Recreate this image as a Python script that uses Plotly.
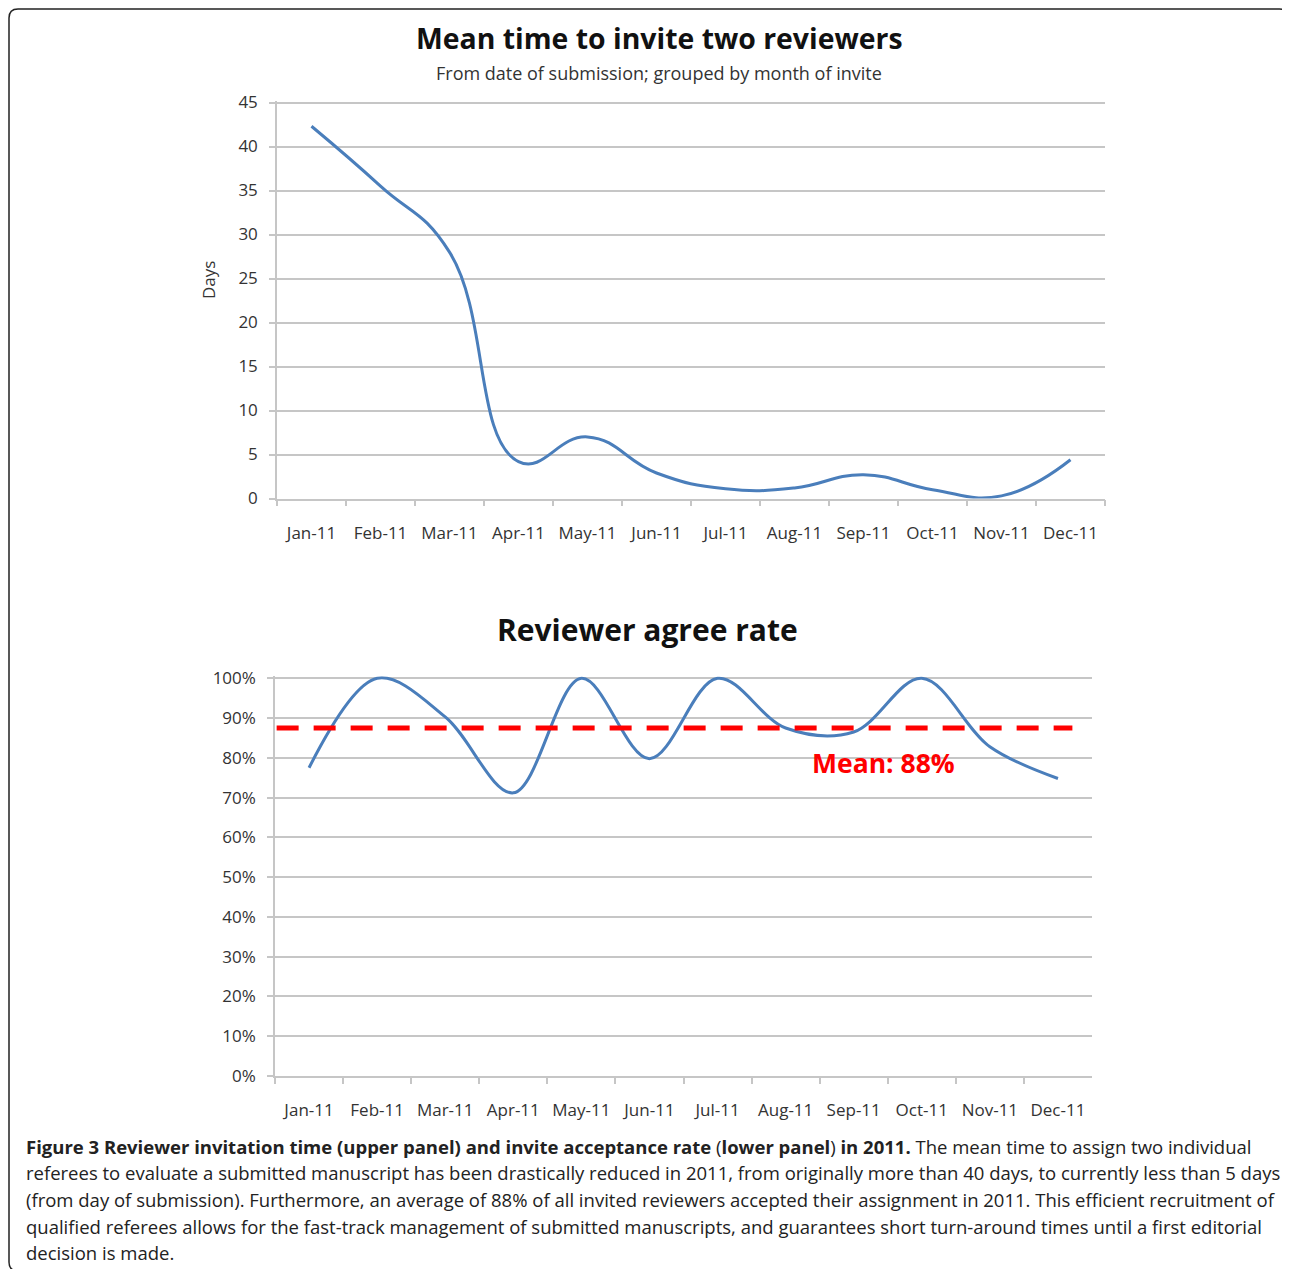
import plotly.graph_objects as go

PAGE_W, PAGE_H = 1290, 1269
OFF = 8  # default page body margin
W, H = PAGE_W - OFF, PAGE_H - OFF

months = ["Jan-11", "Feb-11", "Mar-11", "Apr-11", "May-11", "Jun-11",
          "Jul-11", "Aug-11", "Sep-11", "Oct-11", "Nov-11", "Dec-11"]
days_to_invite = [42.3, 35.5, 28.0, 4.2, 7.0, 2.9, 1.1, 1.2, 2.7, 1.0, 0.3, 4.4]
agree_rate = [0.775, 1.00, 0.903, 0.712, 1.00, 0.798, 1.00, 0.875, 0.865, 1.00, 0.828, 0.748]
mean_rate = 0.875
mean_label = "Mean: 88%"
days_ticks = [0, 5, 10, 15, 20, 25, 30, 35, 40, 45]
pct_ticks = [0, 0.1, 0.2, 0.3, 0.4, 0.5, 0.6, 0.7, 0.8, 0.9, 1.0]

top_title = "Mean time to invite two reviewers"
top_subtitle = "From date of submission; grouped by month of invite"
bottom_title = "Reviewer agree rate"
y_title = "Days"
caption_lines = [
    "<b>Figure 3 Reviewer invitation time (upper panel) and invite acceptance rate </b>(<b>lower panel</b>)<b> in 2011.</b> The mean time to assign two individual",
    "referees to evaluate a submitted manuscript has been drastically reduced in 2011, from originally more than 40 days, to currently less than 5 days",
    "(from day of submission). Furthermore, an average of 88% of all invited reviewers accepted their assignment in 2011. This efficient recruitment of",
    "qualified referees allows for the fast-track management of submitted manuscripts, and guarantees short turn-around times until a first editorial",
    "decision is made.",
]


def px(x):
    return (x - OFF) / W


def py(y):
    return 1 - (y - OFF) / H


FONT = "Open Sans"
LINE = "#4A7EBB"
GRID = "#C6C6C6"
TXT = "#333333"

fig = go.Figure()
fig.add_trace(go.Scatter(x=months, y=days_to_invite, mode="lines",
                         line=dict(color=LINE, width=3, shape="spline", smoothing=1.3),
                         xaxis="x", yaxis="y", showlegend=False, hoverinfo="skip"))
fig.add_trace(go.Scatter(x=months, y=agree_rate, mode="lines",
                         line=dict(color=LINE, width=3, shape="spline", smoothing=1.0),
                         xaxis="x2", yaxis="y2", showlegend=False, hoverinfo="skip"))

common_x = dict(type="category", tickson="boundaries", ticks="outside", ticklen=6,
                tickcolor=GRID, tickwidth=1.5, showline=True, linecolor=GRID, linewidth=1.5,
                showgrid=False, zeroline=False, fixedrange=True, automargin=False,
                range=[-0.5, len(months) - 0.5], ticklabelstandoff=18,
                tickfont=dict(family=FONT, size=17, color=TXT))
common_y = dict(ticks="outside", ticklen=6, tickcolor=GRID, tickwidth=1.5,
                showline=True, linecolor=GRID, linewidth=1.5, showgrid=True,
                gridcolor=GRID, gridwidth=1.5, zeroline=False, fixedrange=True,
                automargin=False, ticklabelstandoff=8,
                tickfont=dict(family=FONT, size=17, color=TXT))

# top: 0 -> 498.5px, 8.8 px per day ; bottom: 0% -> 1076px, 397.7 px per 100%
top_hi = 45.2
bot_hi = 1.005
fig.update_layout(
    width=W, height=H, margin=dict(l=0, r=0, t=0, b=0, autoexpand=False),
    paper_bgcolor="white", plot_bgcolor="white", showlegend=False,
    xaxis=dict(common_x, domain=[px(277), px(1105)], anchor="y"),
    yaxis=dict(common_y, domain=[py(498.5), py(498.5 - top_hi * 8.8)], range=[0, top_hi],
               tickvals=days_ticks, anchor="x"),
    xaxis2=dict(common_x, domain=[px(275), px(1092)], anchor="y2"),
    yaxis2=dict(common_y, domain=[py(1076), py(1076 - bot_hi * 397.7)], range=[0, bot_hi],
                tickvals=pct_ticks, tickformat=".0%", anchor="x2"),
)

# mean dashed line
fig.add_shape(type="line", xref="x2 domain", yref="y2", x0=0.002, x1=0.976,
              y0=mean_rate, y1=mean_rate,
              line=dict(color="#FF0000", width=5, dash="22px,15px"))

ann = []
ann.append(dict(text="<b>" + top_title + "</b>", x=px(659), y=py(38), xref="paper", yref="paper",
                showarrow=False, font=dict(family=FONT, size=28.4, color="#111111"),
                xanchor="center", yanchor="middle"))
ann.append(dict(text=top_subtitle, x=px(659), y=py(73), xref="paper", yref="paper",
                showarrow=False, font=dict(family=FONT, size=18, color=TXT),
                xanchor="center", yanchor="middle"))
ann.append(dict(text="<b>" + bottom_title + "</b>", x=px(647), y=py(629), xref="paper", yref="paper",
                showarrow=False, font=dict(family=FONT, size=30, color="#111111"),
                xanchor="center", yanchor="middle"))
ann.append(dict(text="<b>" + mean_label + "</b>", x=px(883), y=py(763), xref="paper", yref="paper",
                showarrow=False, font=dict(family=FONT, size=26.5, color="#FF0000"),
                xanchor="center", yanchor="middle"))
ann.append(dict(text=y_title, x=px(208), y=py(280), xref="paper", yref="paper", textangle=-90,
                showarrow=False, font=dict(family=FONT, size=17, color=TXT),
                xanchor="center", yanchor="middle"))
cap_y = [1146, 1172, 1199, 1226, 1252]
for line, yy in zip(caption_lines, cap_y):
    ann.append(dict(text=line, x=px(24), y=py(yy), xref="paper", yref="paper",
                    showarrow=False, font=dict(family=FONT, size=18.5, color="#222222"),
                    xanchor="left", yanchor="middle"))
fig.update_layout(annotations=ann)

# rounded frame
r = 9
x0, x1, y0, y1 = 9, 1288.5, 9, 1271
path = (f"M {px(x0)},{py(y0 + r)} L {px(x0)},{py(y1 - r)} "
        f"Q {px(x0)},{py(y1)} {px(x0 + r)},{py(y1)} L {px(x1 - r)},{py(y1)} "
        f"Q {px(x1)},{py(y1)} {px(x1)},{py(y1 - r)} L {px(x1)},{py(y0 + r)} "
        f"Q {px(x1)},{py(y0)} {px(x1 - r)},{py(y0)} L {px(x0 + r)},{py(y0)} "
        f"Q {px(x0)},{py(y0)} {px(x0)},{py(y0 + r)} Z")
fig.add_shape(type="path", path=path, xref="paper", yref="paper",
              line=dict(color="#222222", width=1.5))

fig.write_html("out.html")
